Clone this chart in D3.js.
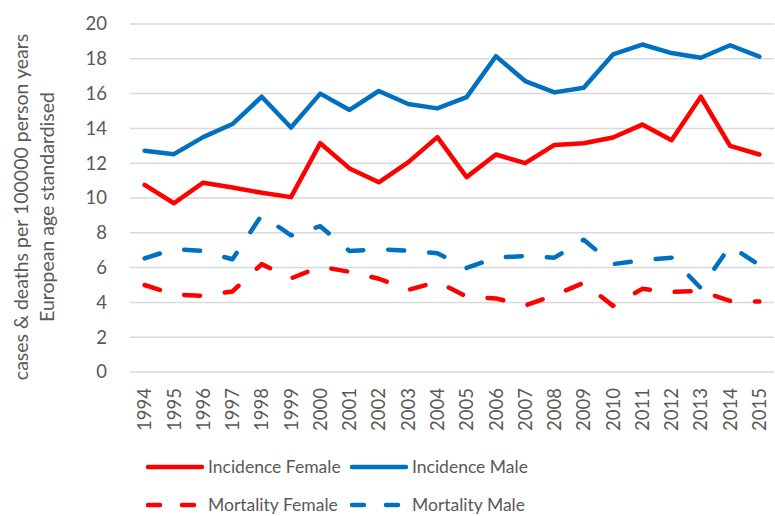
<!DOCTYPE html>
<html>
<head>
<meta charset="utf-8">
<script src="https://cdn.jsdelivr.net/npm/d3@7"></script>
<style>
  body { margin: 0; background: #fff; }
  text { font-family: Lato, "Noto Sans", sans-serif; fill: #595959; }
</style>
</head>
<body>
<script>
// chart data
let years = ["1994","1995","1996","1997","1998","1999","2000","2001","2002","2003","2004",
             "2005","2006","2007","2008","2009","2010","2011","2012","2013","2014","2015"];
let incidenceFemale = [10.75,9.7,10.88,10.6,10.3,10.05,13.15,11.7,10.9,12.05,13.5,
                       11.2,12.5,12.0,13.05,13.15,13.48,14.22,13.32,15.82,13.0,12.5];
let incidenceMale = [12.72,12.52,13.5,14.25,15.82,14.05,16.0,15.06,16.15,15.4,15.15,
                     15.8,18.15,16.72,16.07,16.34,18.25,18.82,18.33,18.06,18.78,18.12];
let mortalityFemale = [5.0,4.45,4.38,4.63,6.2,5.38,6.05,5.76,5.36,4.72,5.18,
                       4.33,4.23,3.82,4.42,5.12,3.8,4.78,4.6,4.66,4.08,4.05];
let mortalityMale = [6.53,7.07,6.95,6.48,9.02,7.85,8.38,6.95,7.05,6.97,6.82,
                     5.98,6.57,6.67,6.57,7.6,6.2,6.42,6.57,4.82,7.24,6.15];
let yTicks = [0,2,4,6,8,10,12,14,16,18,20];
let seriesNames = ["Incidence Female","Incidence Male","Mortality Female","Mortality Male"];

let w = 775, h = 516;
let plotLeft = 130, plotRight = 774, plotTop = 24, plotBottom = 372;

let svg = d3.select("body").append("svg")
    .attr("width", w)
    .attr("height", h);

let x = d3.scaleBand().domain(years).range([plotLeft, plotRight]);
let y = d3.scaleLinear().domain([0, 20]).range([plotBottom, plotTop]);

// gridlines
svg.append("g")
  .selectAll("line")
  .data(yTicks)
  .enter().append("line")
  .attr("x1", plotLeft).attr("x2", plotRight)
  .attr("y1", d => y(d)).attr("y2", d => y(d))
  .attr("stroke", "#d9d9d9")
  .attr("stroke-width", 1.5);

// y axis labels
let yAxis = svg.append("g")
  .attr("transform", `translate(${plotLeft - 12},0)`)
  .call(d3.axisLeft(y).tickValues(yTicks).tickSize(0).tickPadding(11));
yAxis.select(".domain").remove();
yAxis.selectAll("text")
  .style("font-size", "18.5px")
  .style("font-family", "Lato, sans-serif")
  .attr("fill", "#595959");

// x axis labels
let xAxis = svg.append("g")
  .attr("transform", `translate(0,${plotBottom})`)
  .call(d3.axisBottom(x).tickSize(0));
xAxis.select(".domain").remove();
xAxis.selectAll("text")
  .style("font-size", "18.5px")
  .style("font-family", "Lato, sans-serif")
  .attr("fill", "#595959")
  .attr("text-anchor", "end")
  .attr("dy", "0.36em")
  .attr("transform", "translate(0,16) rotate(-90)")
  .attr("x", 0).attr("y", 0);

// axis title
let title = svg.append("g")
  .attr("transform", "translate(0,207) rotate(-90)");
title.append("text")
  .attr("x", 0).attr("y", 28)
  .attr("text-anchor", "middle")
  .style("font-size", "19.5px")
  .text("cases & deaths per 100000 person years");
title.append("text")
  .attr("x", 0).attr("y", 54)
  .attr("text-anchor", "middle")
  .style("font-size", "19.5px")
  .text("European age standardised");

// lines
let line = d3.line()
  .x((d, i) => x(years[i]) + x.bandwidth() / 2)
  .y(d => y(d));

let series = [
  {name: seriesNames[0], values: incidenceFemale, color: "#ff0000", dash: null},
  {name: seriesNames[1], values: incidenceMale, color: "#0070c0", dash: null},
  {name: seriesNames[2], values: mortalityFemale, color: "#ff0000", dash: "16,25"},
  {name: seriesNames[3], values: mortalityMale, color: "#0070c0", dash: "16,25"}
];

svg.append("g")
  .selectAll("path")
  .data(series)
  .enter().append("path")
  .attr("d", d => line(d.values))
  .attr("fill", "none")
  .attr("stroke", d => d.color)
  .attr("stroke-width", 4.5)
  .attr("stroke-linecap", "round")
  .attr("stroke-linejoin", "round")
  .attr("stroke-dasharray", d => d.dash);

// legend
let legendPos = [[148, 467], [352, 467], [148, 505], [352, 505]];
let legend = svg.append("g")
  .selectAll("g")
  .data(series)
  .enter().append("g")
  .attr("transform", (d, i) => `translate(${legendPos[i][0]},${legendPos[i][1]})`);
legend.append("line")
  .attr("x1", 0).attr("x2", 54)
  .attr("y1", 0).attr("y2", 0)
  .attr("stroke", d => d.color)
  .attr("stroke-width", 4.5)
  .attr("stroke-linecap", "round")
  .attr("stroke-dasharray", d => d.dash ? "12,22" : null);
legend.append("text")
  .attr("x", 60).attr("y", 0)
  .attr("dy", "0.35em")
  .style("font-size", "17.5px")
  .text(d => d.name);
</script>
</body>
</html>
